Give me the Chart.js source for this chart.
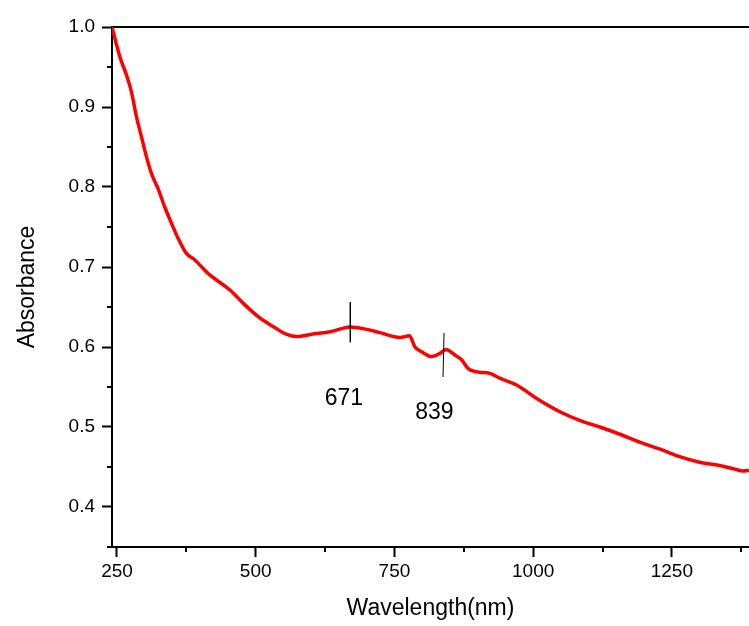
<!DOCTYPE html>
<html>
<head>
<meta charset="utf-8">
<script src="https://cdn.jsdelivr.net/npm/chart.js@4.4.0/dist/chart.umd.min.js"></script>
<style>
html, body { margin: 0; padding: 0; background: #fff; }
</style>
</head>
<body>
<canvas id="chart" width="749" height="626"></canvas>
<script>
// spectrum
var wavelength = [241, 255, 267, 276, 285, 294, 303, 312, 324, 336, 348, 360, 375, 390, 414, 454, 480, 508, 535, 555,
    575, 600, 634, 655, 670, 700, 724, 760, 777, 787, 799, 817, 832, 843, 859, 871, 883, 898, 922, 940,
    970, 1010, 1048, 1085, 1120, 1160, 1192, 1230, 1264, 1300, 1342, 1365, 1378, 1389];
var absorbance = [1.000, 0.963, 0.940, 0.919, 0.888, 0.863, 0.838, 0.817, 0.798, 0.775, 0.755, 0.736, 0.717, 0.709, 0.692, 0.671, 0.653, 0.636, 0.624, 0.616,
    0.613, 0.616, 0.619, 0.623, 0.625, 0.622, 0.618, 0.612, 0.614, 0.600, 0.594, 0.588, 0.592, 0.597, 0.590, 0.584, 0.573, 0.569, 0.567, 0.561,
    0.5525, 0.534, 0.519, 0.508, 0.500, 0.490, 0.481, 0.472, 0.463, 0.456, 0.451, 0.447, 0.445, 0.446];

var xTicks = [250, 375, 500, 625, 750, 875, 1000, 1125, 1250, 1375];
var xLabels = [250, 500, 750, 1000, 1250];
var yTicks = [0.35, 0.4, 0.45, 0.5, 0.55, 0.6, 0.65, 0.7, 0.75, 0.8, 0.85, 0.9, 0.95, 1.0];
var yLabels = ['0.4', '0.5', '0.6', '0.7', '0.8', '0.9', '1.0'];

// peak markers
var peakLabels = ['671', '839'];
var peakLineX = [[670.5, 670.5], [839.4, 837.6]];
var peakLineY = [[0.656, 0.606], [0.6175, 0.5625]];
var peakLabelX = [659, 822];
var peakLabelY = [0.536, 0.5175];

var FONT = '"Liberation Sans", Arial, sans-serif';

function isXMajor(v) { return xLabels.indexOf(v) >= 0; }
function isYMajor(v) { return yLabels.indexOf(v.toFixed(1)) >= 0 && Math.abs(v * 10 - Math.round(v * 10)) < 1e-6; }

var points = wavelength.map(function (w, i) { return { x: w, y: absorbance[i] }; });

var datasets = [];
peakLineX.forEach(function (xs, i) {
    datasets.push({
        data: [{ x: xs[0], y: peakLineY[i][0] }, { x: xs[1], y: peakLineY[i][1] }],
        borderColor: '#000',
        borderWidth: 1,
        pointRadius: 0
    });
});
datasets.push({
    data: points,
    borderColor: '#ff0000',
    borderWidth: 3.5,
    pointRadius: 0,
    cubicInterpolationMode: 'monotone'
});

var peakText = {
    id: 'peakText',
    afterDatasetsDraw: function (chart) {
        var ctx = chart.ctx;
        var xs = chart.scales.x, ys = chart.scales.y;
        ctx.save();
        ctx.fillStyle = '#000';
        ctx.font = '23px ' + FONT;
        ctx.textAlign = 'center';
        ctx.textBaseline = 'middle';
        peakLabels.forEach(function (t, i) {
            ctx.fillText(t, xs.getPixelForValue(peakLabelX[i]), ys.getPixelForValue(peakLabelY[i]));
        });
        ctx.restore();
    }
};

// short minor ticks
var minorTicks = {
    id: 'minorTicks',
    afterDraw: function (chart) {
        var ctx = chart.ctx;
        var xs = chart.scales.x, ys = chart.scales.y;
        ctx.save();
        ctx.strokeStyle = '#000';
        ctx.lineWidth = 2;
        ctx.beginPath();
        xTicks.forEach(function (v) {
            if (isXMajor(v)) return;
            var px = Math.round(xs.getPixelForValue(v));
            ctx.moveTo(px, xs.top);
            ctx.lineTo(px, xs.top + 5);
        });
        yTicks.forEach(function (v) {
            if (isYMajor(v)) return;
            var py = Math.round(ys.getPixelForValue(v));
            ctx.moveTo(ys.right - 5, py);
            ctx.lineTo(ys.right, py);
        });
        ctx.stroke();
        ctx.restore();
    }
};

new Chart(document.getElementById('chart'), {
    type: 'line',
    data: { datasets: datasets },
    plugins: [peakText, minorTicks],
    options: {
        responsive: false,
        animation: false,
        layout: { padding: 0 },
        plugins: { legend: { display: false }, tooltip: { enabled: false } },
        scales: {
            x: {
                type: 'linear',
                position: 'bottom',
                min: 241,
                max: 1389,
                afterBuildTicks: function (scale) {
                    scale.ticks = xTicks.map(function (v) { return { value: v }; });
                },
                afterFit: function (scale) { scale.height = 79; },
                ticks: {
                    autoSkip: false,
                    maxRotation: 0,
                    padding: 3,
                    color: '#000',
                    font: { family: FONT, size: 19 },
                    callback: function (v) { return isXMajor(v) ? String(v) : ''; }
                },
                grid: {
                    drawOnChartArea: false,
                    tickLength: 10,
                    tickWidth: 2,
                    tickColor: function (c) { return c.tick && isXMajor(c.tick.value) ? '#000' : 'rgba(0,0,0,0)'; }
                },
                border: { color: '#000', width: 2 },
                title: {
                    display: true,
                    text: 'Wavelength(nm)',
                    color: '#000',
                    font: { family: FONT, size: 23 },
                    padding: { top: 0, bottom: 4 }
                }
            },
            xTop: {
                type: 'linear',
                position: 'top',
                min: 241,
                max: 1389,
                afterFit: function (scale) { scale.height = 27; },
                ticks: { display: false },
                grid: { drawOnChartArea: false, drawTicks: false },
                border: { color: '#000', width: 2 }
            },
            y: {
                type: 'linear',
                position: 'left',
                min: 0.35,
                max: 1.0,
                afterBuildTicks: function (scale) {
                    scale.ticks = yTicks.map(function (v) { return { value: v }; });
                },
                afterFit: function (scale) { scale.width = 112; },
                ticks: {
                    autoSkip: false,
                    padding: 7,
                    color: '#000',
                    font: { family: FONT, size: 19 },
                    callback: function (v) { return isYMajor(v) ? v.toFixed(1) : ''; }
                },
                grid: {
                    drawOnChartArea: false,
                    tickLength: 10,
                    tickWidth: 2,
                    tickColor: function (c) { return c.tick && isYMajor(c.tick.value) ? '#000' : 'rgba(0,0,0,0)'; }
                },
                border: { color: '#000', width: 2 },
                title: {
                    display: true,
                    text: 'Absorbance',
                    color: '#000',
                    font: { family: FONT, size: 23 },
                    padding: { top: 14, bottom: 0 }
                }
            }
        }
    }
});
</script>
</body>
</html>
